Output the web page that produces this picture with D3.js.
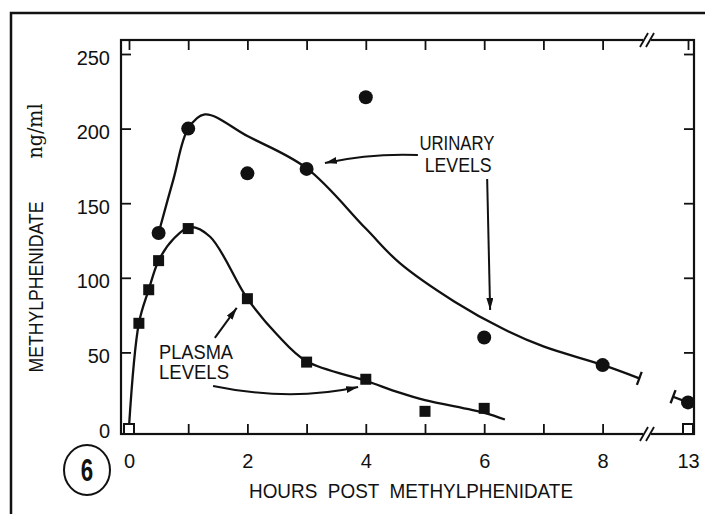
<!DOCTYPE html>
<html>
<head>
<meta charset="utf-8">
<script src="https://cdn.jsdelivr.net/npm/d3@7"></script>
<style>
  html, body { margin:0; padding:0; background:#fff; }
  svg { display:block; }
</style>
</head>
<body>
<svg id="chart" width="705" height="514"></svg>
<script>
// Methylphenidate after a dose: plasma vs urinary levels (ng/ml)
// x axis is broken between 8 h and 13 h

const hourTicks = [0, 1, 2, 3, 4, 5, 6, 7, 8, 13];
const hourLabels = [0, 2, 4, 6, 8, 13];
const valueTicks = [0, 50, 100, 150, 200, 250];

// measured points
const plasmaHours = [0.167, 0.333, 0.5, 1, 2, 3, 4, 5, 6];
const plasmaValues = [69.5, 92, 111.5, 133, 86, 43.5, 32, 10.5, 12.5];
const undetectedHours = [0, 13]; // open squares sitting on zero
const urinaryHours = [0.5, 1, 2, 3, 4, 6, 8, 13];
const urinaryValues = [130, 200, 170, 173, 221, 60, 41.5, 16.5];

// hand drawn curves
const plasmaCurveHours = [0, 0.167, 0.333, 0.5, 0.75, 1.03, 1.37, 2, 2.5, 3, 4, 4.57, 5, 6, 6.35];
const plasmaCurveValues = [0, 69.5, 92, 111.5, 126, 134, 127.5, 86, 62, 44, 31, 23, 18, 9.5, 5];
const urinaryCurveHours = [0.5, 0.75, 1, 1.28, 2, 3, 4, 4.57, 5.5, 6.31, 7, 8, 8.62];
const urinaryCurveValues = [130, 166, 200, 209.5, 195, 173.5, 133, 110, 84, 66, 54, 41.6, 32.6];
const urinaryTailHours = [11.45, 13];
const urinaryTailValues = [20.3, 16.5];

(function(){
  const svg = d3.select('#chart');
  const ink = '#111';
  const sans = '"Liberation Sans", Arial, sans-serif';
  const box = { left: 121, top: 40, right: 694, bottom: 434 };
  const breakHour = 8.75;

  const x = d3.scaleLinear().domain([0, breakHour, 13]).range([129, 647, 688]);
  const y = d3.scaleLinear().domain([0, 250]).range([427, 54]);

  svg.append('rect').attr('width', 705).attr('height', 514).attr('fill', '#fff');

  const defs = svg.append('defs');
  defs.append('marker')
    .attr('id', 'arrow')
    .attr('viewBox', '0 0 12 7')
    .attr('refX', 12).attr('refY', 3.5)
    .attr('markerWidth', 12).attr('markerHeight', 7)
    .attr('markerUnits', 'userSpaceOnUse')
    .attr('orient', 'auto')
    .append('path').attr('d', 'M0,0 L12,3.5 L0,7 Z').attr('fill', ink);

  // page frame (left + top rules of the scanned page)
  svg.append('path')
    .attr('d', 'M11,514 V13 H705')
    .attr('fill', 'none').attr('stroke', ink).attr('stroke-width', 2.5);

  // plot box
  svg.append('rect')
    .attr('x', box.left).attr('y', box.top)
    .attr('width', box.right - box.left).attr('height', box.bottom - box.top)
    .attr('fill', 'none').attr('stroke', ink).attr('stroke-width', 2.2);

  function styleAxis(g){
    g.select('.domain').remove();
    g.attr('font-family', sans).attr('font-size', 20);
    g.selectAll('.tick line').attr('stroke', ink).attr('stroke-width', 1.8);
    g.selectAll('.tick text').attr('fill', ink);
  }

  const bottomAxis = svg.append('g')
    .attr('transform', `translate(0,${box.bottom})`)
    .call(d3.axisBottom(x).tickValues(hourTicks).tickSize(-10).tickPadding(20)
      .tickFormat(d => hourLabels.includes(d) ? d : ''));
  styleAxis(bottomAxis);

  const topAxis = svg.append('g')
    .attr('transform', `translate(0,${box.top})`)
    .call(d3.axisTop(x).tickValues(hourTicks).tickSize(-10).tickFormat(''));
  styleAxis(topAxis);

  const leftAxis = svg.append('g')
    .attr('transform', `translate(${box.left},0)`)
    .call(d3.axisLeft(y).tickValues(valueTicks).tickSize(-10).tickPadding(11));
  styleAxis(leftAxis);
  leftAxis.selectAll('.tick text').attr('dy', '0.5em');
  leftAxis.selectAll('.tick line').filter(d => d === 0).remove();

  const rightAxis = svg.append('g')
    .attr('transform', `translate(${box.right},0)`)
    .call(d3.axisRight(y).tickValues(valueTicks.filter(v => v > 0)).tickSize(-10).tickFormat(''));
  styleAxis(rightAxis);

  // axis break marks "//"
  [box.top, box.bottom].forEach(yy => {
    const cx = x(breakHour);
    svg.append('rect').attr('x', cx - 4).attr('y', yy - 3).attr('width', 8).attr('height', 6).attr('fill', '#fff');
    [-3, 3].forEach(off => {
      svg.append('line')
        .attr('x1', cx + off - 4).attr('y1', yy + 7)
        .attr('x2', cx + off + 4).attr('y2', yy - 7)
        .attr('stroke', ink).attr('stroke-width', 1.8);
    });
  });

  // fitted curves
  const line = d3.line()
    .x(d => x(d[0])).y(d => y(d[1]))
    .curve(d3.curveCatmullRom.alpha(0.5));

  const curveStyle = sel => sel.attr('fill', 'none').attr('stroke', ink).attr('stroke-width', 2.3);

  svg.append('path').datum(d3.zip(plasmaCurveHours, plasmaCurveValues)).attr('d', line).call(curveStyle);
  const urinaryPts = d3.zip(urinaryCurveHours, urinaryCurveValues);
  svg.append('path').datum(urinaryPts).attr('d', line).call(curveStyle);
  const tailPts = d3.zip(urinaryTailHours, urinaryTailValues);
  svg.append('path').datum(tailPts).attr('d', d3.line().x(d => x(d[0])).y(d => y(d[1]))).call(curveStyle);

  // short bars where the curve is cut by the break
  function endBar(p, q){
    const px = x(p[0]), py = y(p[1]);
    const dx = x(q[0]) - px, dy = y(q[1]) - py;
    const len = Math.hypot(dx, dy);
    const nx = -dy / len * 7, ny = dx / len * 7;
    svg.append('line')
      .attr('x1', px + nx).attr('y1', py + ny)
      .attr('x2', px - nx).attr('y2', py - ny)
      .attr('stroke', ink).attr('stroke-width', 2.3);
  }
  endBar(urinaryPts[urinaryPts.length - 1], urinaryPts[urinaryPts.length - 2]);
  endBar(tailPts[0], tailPts[1]);

  // points
  svg.append('g').selectAll('circle')
    .data(d3.zip(urinaryHours, urinaryValues))
    .join('circle')
    .attr('cx', d => x(d[0])).attr('cy', d => y(d[1]))
    .attr('r', 7).attr('fill', ink);

  const sq = 11;
  svg.append('g').selectAll('rect')
    .data(d3.zip(plasmaHours, plasmaValues))
    .join('rect')
    .attr('x', d => x(d[0]) - sq / 2).attr('y', d => y(d[1]) - sq / 2)
    .attr('width', sq).attr('height', sq).attr('fill', ink);

  svg.append('g').selectAll('rect')
    .data(undetectedHours)
    .join('rect')
    .attr('x', d => x(d) - 5).attr('y', y(0) - 3)
    .attr('width', 10).attr('height', 10)
    .attr('fill', '#fff').attr('stroke', ink).attr('stroke-width', 2);

  // annotations (anchored in data units)
  function label(txt, hour, val, anchor, len){
    svg.append('text')
      .attr('x', x(hour)).attr('y', y(val))
      .attr('text-anchor', anchor)
      .attr('font-family', sans).attr('font-size', 20).attr('fill', ink)
      .attr('textLength', len).attr('lengthAdjust', 'spacingAndGlyphs')
      .text(txt);
  }
  label('URINARY', 5.54, 185.5, 'middle', 75);
  label('LEVELS', 5.56, 170.7, 'middle', 67);
  label('PLASMA', 0.507, 45.4, 'start', 74);
  label('LEVELS', 0.507, 32, 'start', 70);

  function arrow(a, c, b){
    const p = d3.path();
    p.moveTo(x(a[0]), y(a[1]));
    if (c) p.quadraticCurveTo(x(c[0]), y(c[1]), x(b[0]), y(b[1]));
    else p.lineTo(x(b[0]), y(b[1]));
    svg.append('path').attr('d', p.toString())
      .attr('fill', 'none').attr('stroke', ink).attr('stroke-width', 2)
      .attr('marker-end', 'url(#arrow)');
  }
  arrow([4.88, 182.3], [4.10, 183.6], [3.31, 177]);
  arrow([6.05, 166.2], [6.08, 122], [6.10, 78.4]);
  arrow([1.45, 59.7], null, [1.82, 79.8]);
  arrow([1.42, 27.5], [2.72, 16.8], [3.87, 26.8]);

  // axis titles
  svg.append('text')
    .attr('transform', 'translate(43,287) rotate(-90)')
    .attr('text-anchor', 'middle')
    .attr('font-family', sans).attr('font-size', 20).attr('fill', ink)
    .attr('textLength', 171).attr('lengthAdjust', 'spacingAndGlyphs')
    .text('METHYLPHENIDATE');
  svg.append('text')
    .attr('transform', 'translate(42,131) rotate(-90)')
    .attr('text-anchor', 'middle')
    .attr('font-family', '"DejaVu Serif", "Liberation Serif", serif').attr('font-size', 21).attr('fill', ink)
    .attr('textLength', 55).attr('lengthAdjust', 'spacingAndGlyphs')
    .text('ng/ml');

  svg.append('text')
    .attr('x', 411).attr('y', 498)
    .attr('text-anchor', 'middle')
    .attr('font-family', sans).attr('font-size', 20).attr('fill', ink)
    .attr('textLength', 324).attr('lengthAdjust', 'spacingAndGlyphs')
    .attr('xml:space', 'preserve')
    .text('HOURS  POST  METHYLPHENIDATE');

  // figure number
  svg.append('ellipse')
    .attr('cx', 87).attr('cy', 470).attr('rx', 23).attr('ry', 25)
    .attr('fill', 'none').attr('stroke', ink).attr('stroke-width', 2);
  svg.append('text')
    .attr('transform', 'translate(87,481) scale(0.72,1)')
    .attr('text-anchor', 'middle')
    .attr('font-family', sans).attr('font-weight', 'bold').attr('font-size', 31).attr('fill', ink)
    .text('6');
})();
</script>
</body>
</html>
